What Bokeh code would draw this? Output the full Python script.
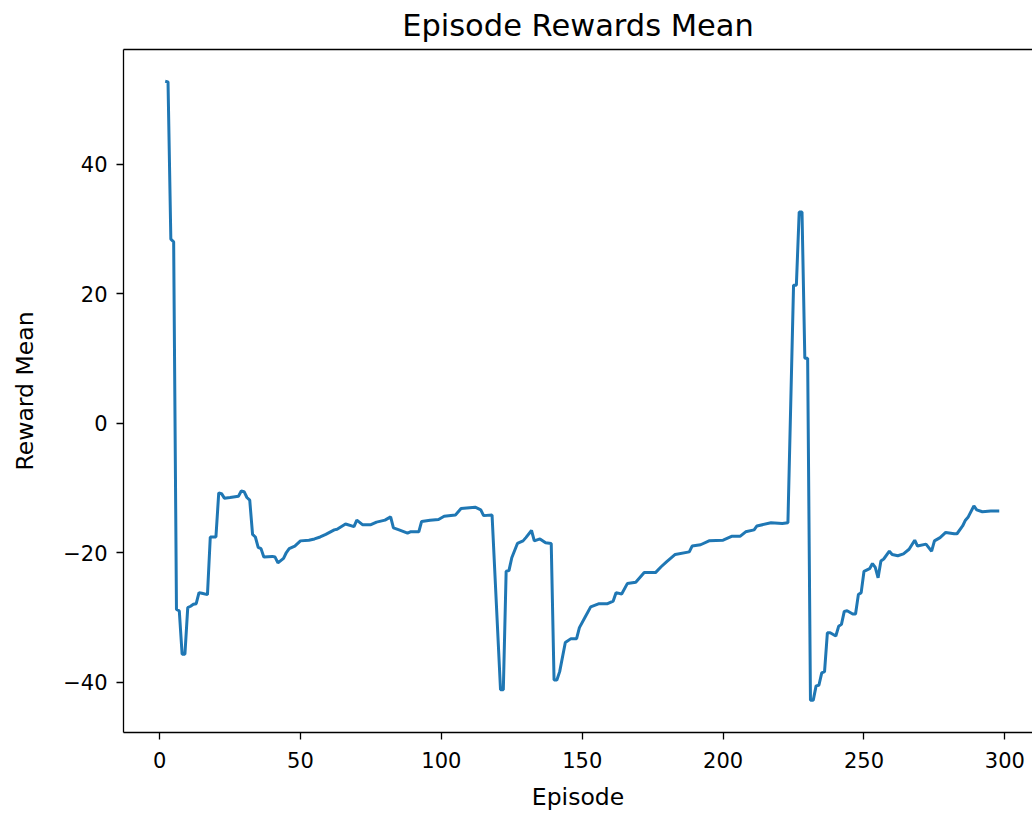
from bokeh.plotting import figure
from bokeh.models import FixedTicker, LinearAxis, Range1d
from bokeh.embed import file_html
from bokeh.resources import INLINE

episodes = [2, 3, 4, 5, 6, 7, 8, 9, 10, 11, 12, 13, 14, 15, 17, 18, 20, 21, 22, 23,
            25, 28, 29, 30, 31, 32, 33, 34, 35, 36, 37, 40, 41, 42, 44, 45, 46, 48, 50, 53,
            55, 57, 59, 62, 63, 66, 69, 70, 72, 75, 77, 80, 82, 83, 85, 88, 89, 92, 93, 96,
            99, 101, 105, 107, 112, 114, 115, 118, 121, 122, 123, 124, 125, 127, 129, 130, 132, 133, 135, 137,
            139, 140, 141, 142, 144, 146, 148, 149, 151, 153, 156, 159, 161, 162, 164, 166, 169, 172, 176, 178,
            180, 183, 188, 189, 192, 195, 200, 203, 206, 208, 211, 212, 217, 221, 223, 225, 226, 227, 228, 229,
            230, 231, 232, 233, 234, 235, 236, 237, 238, 240, 241, 242, 243, 244, 246, 247, 248, 249, 250, 252,
            253, 254, 255, 256, 257, 259, 260, 262, 264, 266, 268, 269, 272, 274, 275, 277, 279, 282, 283, 285,
            286, 287, 289, 290, 292, 295, 298]
reward_mean = [52.8, 52.7, 28.4, 28.0, -28.8, -29.0, -35.7, -35.7, -28.5, -28.3, -28.0, -27.9, -26.2, -26.3, -26.5, -17.6, -17.6, -10.8, -10.9, -11.6,
               -11.5, -11.3, -10.5, -10.6, -11.5, -11.9, -17.2, -17.6, -19.2, -19.4, -20.7, -20.6, -20.7, -21.6, -20.9, -20.0, -19.4, -19.0, -18.2, -18.1,
               -17.9, -17.6, -17.2, -16.5, -16.4, -15.6, -16.0, -15.0, -15.7, -15.7, -15.3, -15.0, -14.5, -16.2, -16.5, -17.0, -16.8, -16.8, -15.2, -15.0,
               -14.9, -14.4, -14.2, -13.2, -13.0, -13.4, -14.3, -14.2, -41.2, -41.2, -22.9, -22.8, -20.8, -18.6, -18.2, -17.7, -16.6, -18.2, -17.9, -18.5,
               -18.6, -39.7, -39.7, -38.4, -33.9, -33.3, -33.3, -31.6, -30.0, -28.4, -27.9, -27.9, -27.5, -26.2, -26.4, -24.8, -24.6, -23.1, -23.1, -22.2,
               -21.4, -20.3, -19.9, -19.0, -18.8, -18.2, -18.1, -17.5, -17.5, -16.8, -16.5, -15.9, -15.4, -15.5, -15.4, 21.3, 21.3, 32.6, 32.6, 10.0,
               10.0, -42.8, -42.8, -40.6, -40.5, -38.6, -38.4, -32.4, -32.4, -32.9, -31.4, -31.1, -29.1, -29.0, -29.5, -29.5, -26.5, -26.2, -22.9, -22.5,
               -21.7, -22.3, -23.9, -21.3, -21.0, -19.8, -20.3, -20.5, -20.2, -19.5, -18.1, -19.0, -18.7, -19.8, -18.2, -17.7, -16.9, -17.1, -17.1, -15.9,
               -15.0, -14.5, -12.8, -13.4, -13.7, -13.6, -13.6]

x_ticks = [0, 50, 100, 150, 200, 250, 300]
y_ticks = [-40, -20, 0, 20, 40]
y_tick_labels = {-40: "\u221240", -20: "\u221220", 0: "0", 20: "20", 40: "40"}

title_text = "Episode Rewards Mean"
x_label = "Episode"
y_label = "Reward Mean"

FONT = "DejaVu Sans"

p = figure(width=1032, height=814, output_backend="svg", toolbar_location=None,
           x_range=Range1d(-12.8, 309.8), y_range=Range1d(-47.8, 57.7),
           min_border_left=123, min_border_right=0, min_border_top=49, min_border_bottom=82,
           title=title_text)

p.title.text_font = FONT
p.title.text_font_size = "30.5px"
p.title.text_font_style = "normal"
p.title.align = "center"
p.title.vertical_align = "top"
p.title.text_color = "black"
p.title.standoff = 10

p.line(episodes, reward_mean, line_color="#1f77b4", line_width=3)

p.grid.visible = False
p.outline_line_color = None
p.background_fill_color = "white"
p.border_fill_color = "white"

for ax in (p.xaxis[0], p.yaxis[0]):
    ax.axis_line_color = "black"
    ax.axis_line_width = 1.3
    ax.major_tick_line_color = "black"
    ax.major_tick_line_width = 1.3
    ax.major_tick_out = 7
    ax.major_tick_in = 0
    ax.minor_tick_line_color = None
    ax.major_label_text_font = FONT
    ax.major_label_text_font_size = "21px"
    ax.major_label_text_color = "black"
    ax.axis_label_text_font = FONT
    ax.axis_label_text_font_size = "23.5px"
    ax.axis_label_text_font_style = "normal"
    ax.axis_label_text_color = "black"

p.xaxis[0].ticker = FixedTicker(ticks=x_ticks)
p.yaxis[0].ticker = FixedTicker(ticks=y_ticks)
p.yaxis[0].major_label_overrides = y_tick_labels
p.xaxis[0].axis_label = x_label
p.yaxis[0].axis_label = y_label
p.xaxis[0].major_label_standoff = 12
p.yaxis[0].major_label_standoff = 9
p.xaxis[0].axis_label_standoff = 12
p.yaxis[0].axis_label_standoff = 21

top = LinearAxis(ticker=FixedTicker(ticks=[]), major_tick_out=0, major_tick_in=0,
                 minor_tick_line_color=None, major_label_text_font_size="0px",
                 major_label_standoff=0, axis_label_standoff=0,
                 axis_line_color="black", axis_line_width=1.3)
p.add_layout(top, "above")

open("out.html", "w").write(file_html(p, INLINE))
